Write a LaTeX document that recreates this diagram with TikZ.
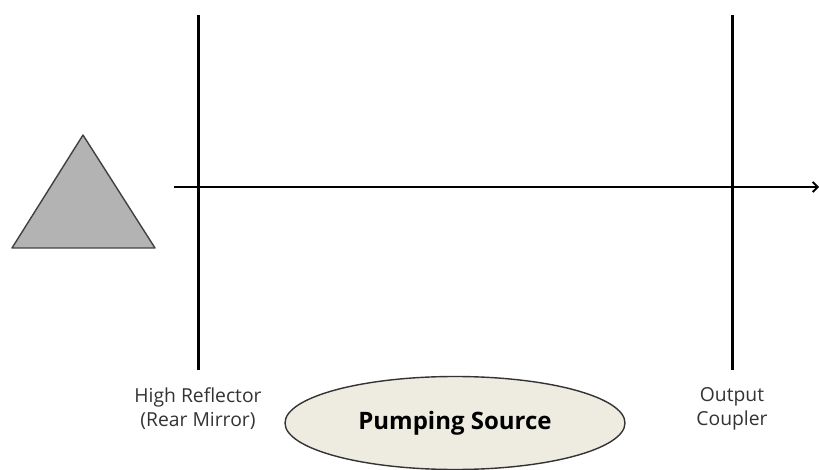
\documentclass[tikz,border=0pt]{standalone}
\usepackage{fontspec}
\setmainfont{Open Sans}
\usetikzlibrary{shapes.geometric,arrows.meta}
\definecolor{prismgray}{HTML}{B3B3B3}
\definecolor{pumpfill}{HTML}{EEEBE0}
\tikzset{
  mirror/.style={line width=3pt, black},
  beam/.style={line width=2.8pt, black, -{Straight Barb[length=5pt,width=10pt,line width=1.8pt]}},
  caption/.style={align=center, font=\fontsize{19.3}{24}\selectfont, text=black!80, inner sep=0pt},
}
\begin{document}
\begin{tikzpicture}[x=1pt,y=-1pt]
  \useasboundingbox (0,0) rectangle (819,470);
  % prism
  \draw[line width=1.4pt, black!75, fill=prismgray, line join=round]
    (83,135) coordinate (apex) -- (155,248) coordinate (br) -- (12,248) coordinate (bl) -- cycle;
  % mirrors
  \coordinate (hrTop) at (198,15);
  \coordinate (hrBot) at (198,370);
  \coordinate (ocTop) at (732,15);
  \coordinate (ocBot) at (732,370);
  \draw[mirror] (hrTop) -- (hrBot);
  \draw[mirror] (ocTop) -- (ocBot);
  % optical axis
  \coordinate (axStart) at (174,187);
  \coordinate (axEnd) at (819,187);
  \draw[beam] (axStart) -- (axEnd);
  % labels
  \node[caption] (hr) at (198,409) {High Reflector\\(Rear Mirror)};
  \node[caption] (oc) at (732,409) {Output\\Coupler};
  % pump
  \node[ellipse, draw=black!80, line width=1.4pt, fill=pumpfill,
        minimum width=340pt, minimum height=93pt, inner sep=0pt,
        font=\bfseries\fontsize{24}{26}\selectfont] (pump) at (455,423) {Pumping Source};
\end{tikzpicture}
\end{document}
